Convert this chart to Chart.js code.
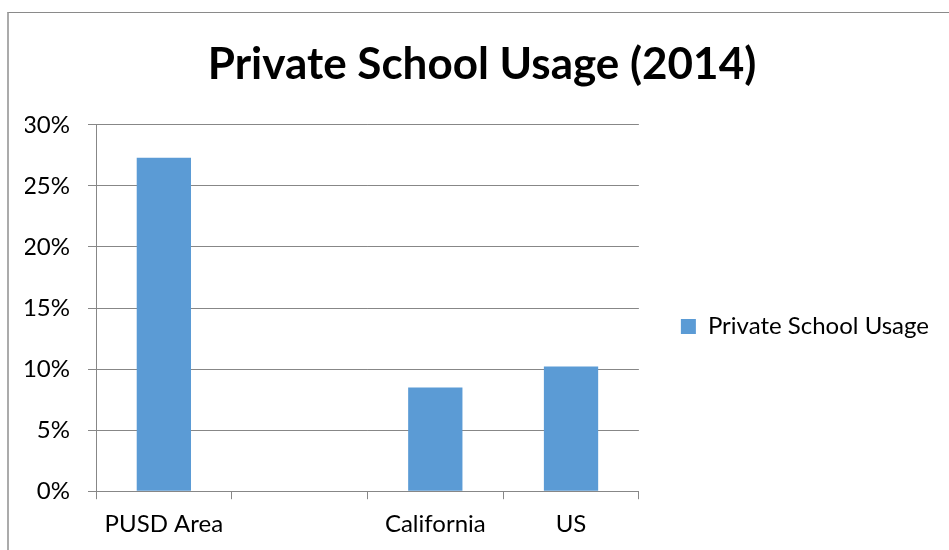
<!DOCTYPE html>
<html>
<head>
<meta charset="utf-8">
<title>Private School Usage (2014)</title>
<script src="https://cdn.jsdelivr.net/npm/chart.js@4"></script>
<style>
    html, body { margin: 0; padding: 0; background: #fff; overflow: hidden; }
    #frame {
        position: absolute; left: 7px; top: 12px; width: 1000px; height: 600px;
        border-left: 2px solid #ababab; border-top: 1px solid #8a8a8a;
    }
    #wrap { position: absolute; left: 0; top: 0; width: 949px; height: 550px; }
</style>
</head>
<body>
<div id="frame"></div>
<div id="wrap"><canvas id="usageChart"></canvas></div>
<script>
// Share of students in private schools, percent
const categories = ['PUSD Area', '', 'California', 'US'];
const usageValues = [27.3, null, 8.5, 10.2];
const seriesName = 'Private School Usage';
const yMin = 0;
const yMax = 30;
const yStep = 5;

const BAR_BLUE = '#5b9bd5';
const AXIS_GREY = '#878787';
const FONT = 'Lato, "Open Sans", sans-serif';

document.addEventListener('DOMContentLoaded', () => {
    const ctx = document.getElementById('usageChart');

    new Chart(ctx, {
        type: 'bar',
        data: {
            labels: categories,
            datasets: [
                {
                    label: seriesName,
                    data: usageValues,
                    backgroundColor: BAR_BLUE,
                    borderWidth: 0,
                    categoryPercentage: 1.0,
                    barPercentage: 0.4,
                },
            ],
        },
        options: {
            responsive: true,
            maintainAspectRatio: false,
            animation: false,
            layout: {
                padding: { left: 25, right: 10, top: 0, bottom: 0 },
            },
            plugins: {
                title: {
                    display: true,
                    text: 'Private School Usage (2014)',
                    color: '#000',
                    font: { family: FONT, size: 44, weight: 'bold' },
                    padding: { top: 38, bottom: 34 },
                },
                legend: {
                    position: 'right',
                    fullSize: false,
                    align: 'center',
                    maxWidth: 340,
                    // empty title only pushes the single entry a bit lower
                    title: { display: true, text: '', font: { size: 10 }, padding: { top: 25, bottom: 0 } },
                    labels: {
                        boxWidth: 15,
                        boxHeight: 15,
                        padding: 42,
                        color: '#000',
                        font: { family: FONT, size: 24 },
                    },
                },
                tooltip: { enabled: false },
            },
            scales: {
                x: {
                    grid: {
                        offset: true,
                        drawOnChartArea: false,
                        drawTicks: true,
                        tickLength: 8,
                        color: AXIS_GREY,
                    },
                    border: { color: AXIS_GREY },
                    ticks: {
                        color: '#000',
                        padding: 11,
                        maxRotation: 0,
                        font: { family: FONT, size: 24 },
                    },
                },
                y: {
                    min: yMin,
                    max: yMax,
                    afterFit: (scale) => {
                        scale.width = 71;
                    },
                    grid: { color: AXIS_GREY, tickLength: 8 },
                    border: { color: AXIS_GREY },
                    ticks: {
                        stepSize: yStep,
                        color: '#000',
                        padding: 18,
                        font: { family: FONT, size: 24 },
                        callback: (value) => value + '%',
                    },
                },
            },
        },
    });
});
</script>
</body>
</html>
